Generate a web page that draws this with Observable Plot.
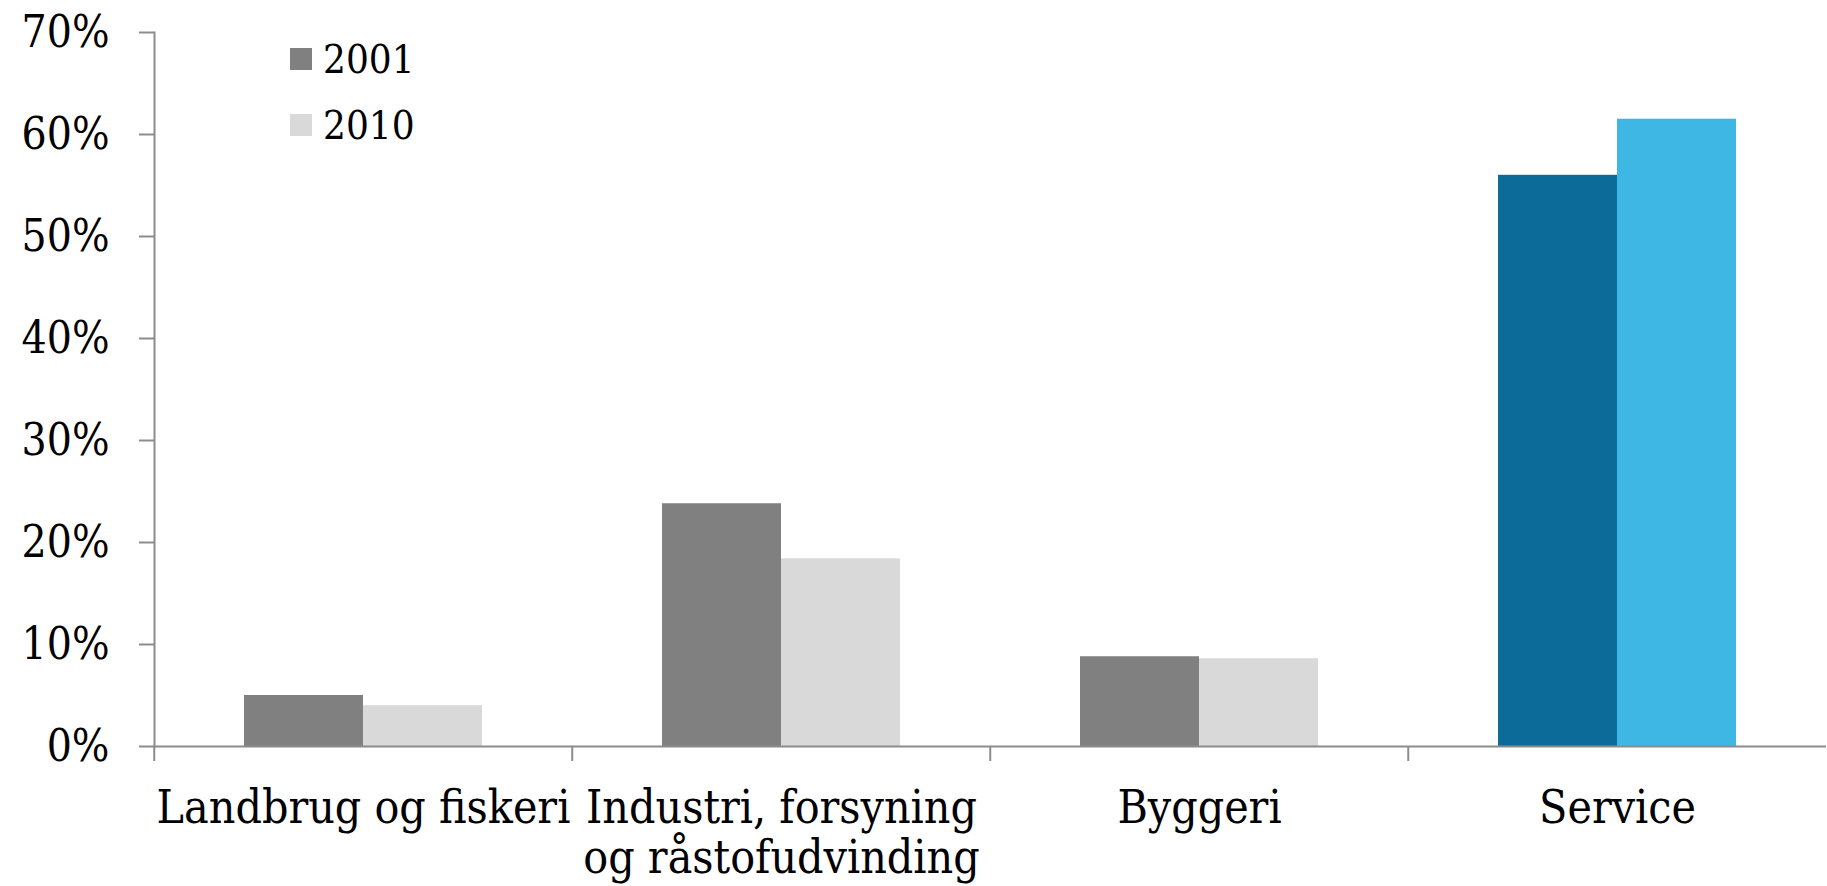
<!DOCTYPE html>
<html>
<head>
<meta charset="utf-8">
<script src="https://cdn.jsdelivr.net/npm/d3@7"></script>
<script src="https://cdn.jsdelivr.net/npm/@observablehq/plot@0.6"></script>
<style>
  html, body { margin: 0; padding: 0; background: #fff; }
  #wrap { position: relative; width: 1827px; height: 886px; font-family: "DejaVu Serif Condensed", "DejaVu Serif", serif; }
  #legend { position: absolute; left: 290px; top: 26px; font-size: 40px; color: #000; }
  #legend .row { display: flex; align-items: center; height: 66px; }
  #legend .sw { width: 22px; height: 22px; margin-right: 11px; }
</style>
</head>
<body>
<div id="wrap"><div id="legend"></div></div>
<script>
const categories = ["Landbrug og fiskeri", "Industri, forsyning og råstofudvinding", "Byggeri", "Service"];
const categoryLabels = ["Landbrug og fiskeri", "Industri, forsyning\nog råstofudvinding", "Byggeri", "Service"];
const years = ["2001", "2010"];
const values2001 = [5.0, 23.8, 8.8, 56.0];
const values2010 = [4.0, 18.4, 8.6, 61.5];
const yTicks = [0, 10, 20, 30, 40, 50, 60, 70];

const colorKeys = ["2001", "2010", "Service 2001", "Service 2010"];
const colorRange = ["#808080", "#d9d9d9", "#0c6b99", "#3eb7e4"];

const data = categories.flatMap((c, i) => [
  {cat: c, year: "2001", value: values2001[i]},
  {cat: c, year: "2010", value: values2010[i]}
]);

const W = 1827, H = 886, ML = 153, MR = 0, MT = 32, MB = 140;
const bandW = (W - ML - MR) / categories.length;
const axisColor = "#8c8c8c";
const fontFamily = '"DejaVu Serif Condensed", "DejaVu Serif", serif';

const chart = Plot.plot({
  width: W, height: H,
  marginLeft: ML, marginRight: MR, marginTop: MT, marginBottom: MB,
  style: {fontFamily, fontSize: "46px", color: "#000", background: "white"},
  fx: {domain: categories, padding: 0, label: null},
  x: {domain: years, paddingInner: 0, paddingOuter: 0.744, axis: null},
  y: {domain: [0, 70], axis: null, label: null},
  color: {type: "ordinal", domain: colorKeys, range: colorRange},
  marks: [
    Plot.barY(data, {fx: "cat", x: "year", y: "value", inset: 0,
      fill: d => d.cat === "Service" ? "Service " + d.year : d.year}),
    Plot.ruleY([0], {stroke: axisColor, strokeWidth: 2}),
    Plot.frame({anchor: "left", stroke: axisColor, strokeWidth: 2, facet: "super"}),
    Plot.axisY({ticks: yTicks, tickFormat: d => d + "%", tickSize: 15, tickPadding: 30, label: null,
      stroke: axisColor, strokeWidth: 2, fontSize: 44}),
    Plot.axisFx({anchor: "bottom", tickSize: 0, tickPadding: 42, label: null, lineHeight: 1.07,
      tickFormat: d => categoryLabels[categories.indexOf(d)]}),
    Plot.axisFx({anchor: "bottom", tickSize: 15, text: null, label: null, dx: -bandW / 2, stroke: axisColor, strokeWidth: 2})
  ]
});
document.getElementById("wrap").prepend(chart);

const legend = d3.select("#legend");
years.forEach((y, i) => {
  const row = legend.append("div").attr("class", "row");
  row.append("div").attr("class", "sw").style("background", colorRange[i]);
  row.append("span").text(y);
});
</script>
</body>
</html>
